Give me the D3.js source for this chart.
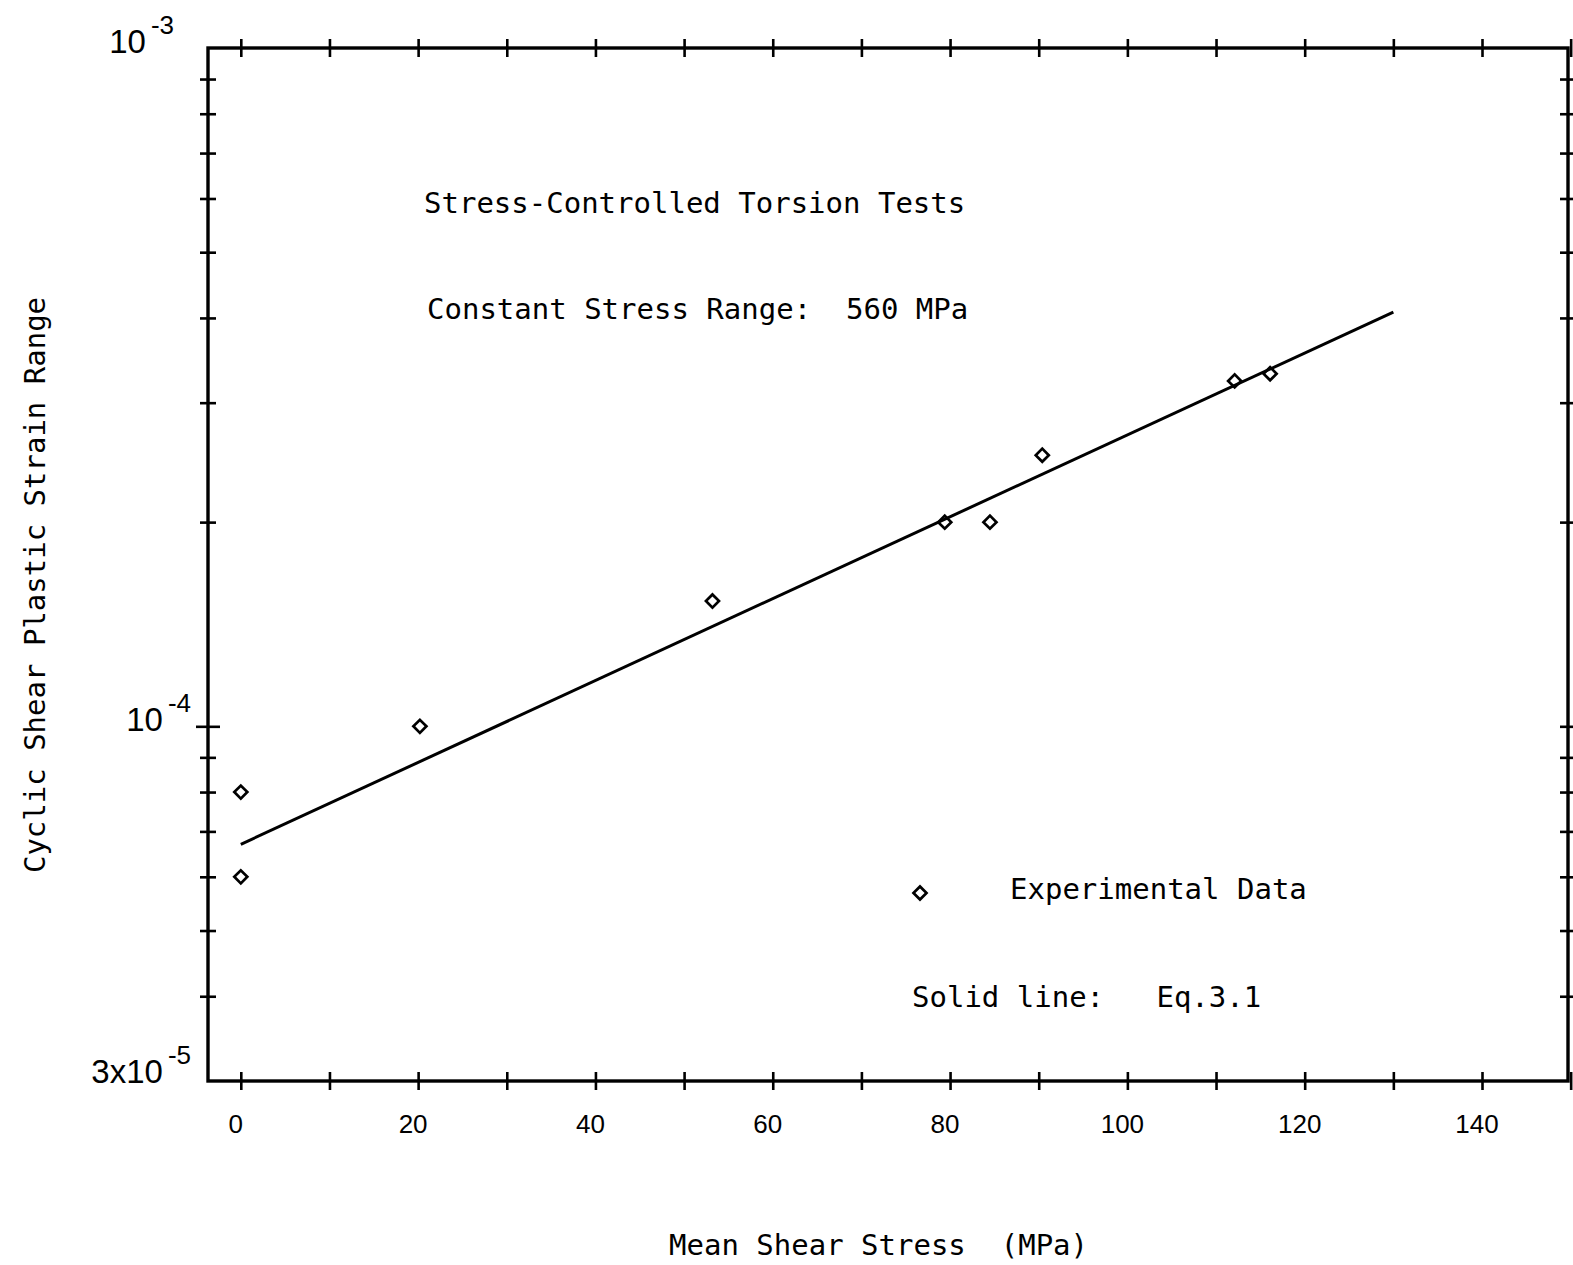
<!DOCTYPE html>
<html>
<head>
<meta charset="utf-8">
<script src="https://cdn.jsdelivr.net/npm/d3@7"></script>
<style>
  body { margin: 0; background: #fff; }
  svg { display: block; }
  .note { font-family: "DejaVu Sans Mono", monospace; font-size: 29px; white-space: pre; }
  .tick-label { font-family: "Liberation Sans", Arial, sans-serif; font-size: 26px; }
</style>
</head>
<body>
<svg id="chart"></svg>
<script>
// experimental points
const meanStress = [0, 0, 20.2, 53.2, 79.4, 84.5, 90.4, 112.1, 116.1]
const strainRange = [8.0e-5, 6.0e-5, 1.0e-4, 1.53e-4, 2.0e-4, 2.0e-4, 2.51e-4, 3.23e-4, 3.31e-4]

// Eq. 3.1 (straight on semi-log paper, so the two ends are enough)
const fitStress = [0, 130]
const fitStrain = [6.7e-5, 4.08e-4]

const xTicks = [0, 10, 20, 30, 40, 50, 60, 70, 80, 90, 100, 110, 120, 130, 140, 150]
const xTickLabels = [0, 20, 40, 60, 80, 100, 120, 140]
const yMinorTicks = [4e-5, 5e-5, 6e-5, 7e-5, 8e-5, 9e-5, 2e-4, 3e-4, 4e-4, 5e-4, 6e-4, 7e-4, 8e-4, 9e-4]
const yMajorTicks = [1e-4]
const yTickLabels = [
  { value: 1e-3, mant: '10', exp: '-3' },
  { value: 1e-4, mant: '10', exp: '-4' },
  { value: 3e-5, mant: '3x10', exp: '-5' }
]

const W = 1573, H = 1265
const frame = { left: 208, right: 1568, top: 48, bottom: 1081 }

const svg = d3.select('#chart').attr('width', W).attr('height', H)
svg.append('rect').attr('width', W).attr('height', H).attr('fill', '#fff')

const x = d3.scaleLinear().domain([-3.7, 149.7]).range([frame.left, frame.right])
const y = d3.scaleLog().domain([3e-5, 1e-3]).range([frame.bottom, frame.top])

//ticks cross the frame line, so shift the tick lines half way
const crossTicks = (g, half) => {
  g.select('.domain').remove()
  g.selectAll('.tick line')
    .attr('stroke', '#000')
    .attr('stroke-width', 2.6)
  g.selectAll('.tick line').each(function() {
    const l = d3.select(this)
    if (l.attr('y2') !== null && +l.attr('y2') !== 0) l.attr('y1', -half).attr('y2', half)
    else l.attr('x1', -half).attr('x2', half)
  })
}

svg.append('g')
  .attr('transform', `translate(0,${frame.bottom})`)
  .call(d3.axisBottom(x).tickValues(xTicks).tickFormat('').tickSize(1))
  .call(g => crossTicks(g, 9))

svg.append('g')
  .attr('transform', `translate(0,${frame.top})`)
  .call(d3.axisTop(x).tickValues(xTicks).tickFormat('').tickSize(1))
  .call(g => crossTicks(g, 9))

svg.append('g')
  .attr('transform', `translate(${frame.left},0)`)
  .call(d3.axisLeft(y).tickValues(yMinorTicks).tickFormat('').tickSize(1))
  .call(g => crossTicks(g, 8))

svg.append('g')
  .attr('transform', `translate(${frame.left},0)`)
  .call(d3.axisLeft(y).tickValues(yMajorTicks).tickFormat('').tickSize(1))
  .call(g => crossTicks(g, 12))

svg.append('g')
  .attr('transform', `translate(${frame.right},0)`)
  .call(d3.axisRight(y).tickValues(yMinorTicks.concat(yMajorTicks)).tickFormat('').tickSize(1))
  .call(g => crossTicks(g, 8))

svg.append('rect')
  .attr('x', frame.left).attr('y', frame.top)
  .attr('width', frame.right - frame.left).attr('height', frame.bottom - frame.top)
  .attr('fill', 'none').attr('stroke', '#000').attr('stroke-width', 3.4)

// x tick labels
svg.append('g').selectAll('text')
  .data(xTickLabels)
  .join('text')
  .attr('class', 'tick-label')
  .attr('x', d => x(d) - 5)
  .attr('y', 1133)
  .attr('text-anchor', 'middle')
  .text(d => d)

// y tick labels with superscript exponent
const yLab = svg.append('g').selectAll('text')
  .data(yTickLabels)
  .join('text')
  .attr('class', 'tick-label')
  .attr('x', d => d.exp === '-3' ? 174 : 191)
  .attr('y', d => y(d.value) + (d.exp === '-3' ? 5 : d.exp === '-5' ? 2 : 5))
  .attr('text-anchor', 'end')
  .style('font-size', '33px')
yLab.append('tspan').text(d => d.mant)
yLab.append('tspan')
  .attr('dx', 5)
  .attr('dy', -19)
  .style('font-size', '26px')
  .text(d => d.exp)

// fitted line
const line = d3.line().x(d => x(d[0])).y(d => y(d[1]))
svg.append('path')
  .datum(d3.zip(fitStress, fitStrain))
  .attr('d', line)
  .attr('fill', 'none')
  .attr('stroke', '#000')
  .attr('stroke-width', 3)

// data points as open diamonds
const diamond = d3.symbol().type(d3.symbolSquare).size(85)
svg.append('g').selectAll('path')
  .data(d3.zip(meanStress, strainRange))
  .join('path')
  .attr('d', diamond)
  .attr('transform', d => `translate(${x(d[0])},${y(d[1])}) rotate(45)`)
  .attr('fill', 'none')
  .attr('stroke', '#000')
  .attr('stroke-width', 2.7)

// annotations
const note = (tx, ty, s) => svg.append('text').attr('class', 'note').attr('x', tx).attr('y', ty).text(s)
note(424, 213, 'Stress-Controlled Torsion Tests')
note(427, 319, 'Constant Stress Range:  560 MPa')
note(1010, 899, 'Experimental Data')
note(912, 1007, 'Solid line:   Eq.3.1')

svg.append('path')
  .attr('d', diamond)
  .attr('transform', 'translate(920,893) rotate(45)')
  .attr('fill', 'none')
  .attr('stroke', '#000')
  .attr('stroke-width', 2.7)

// axis titles
note(669, 1255, 'Mean Shear Stress  (MPa)')
svg.append('text')
  .attr('class', 'note')
  .attr('transform', 'translate(45,585) rotate(-90)')
  .attr('text-anchor', 'middle')
  .text('Cyclic Shear Plastic Strain Range')
</script>
</body>
</html>
